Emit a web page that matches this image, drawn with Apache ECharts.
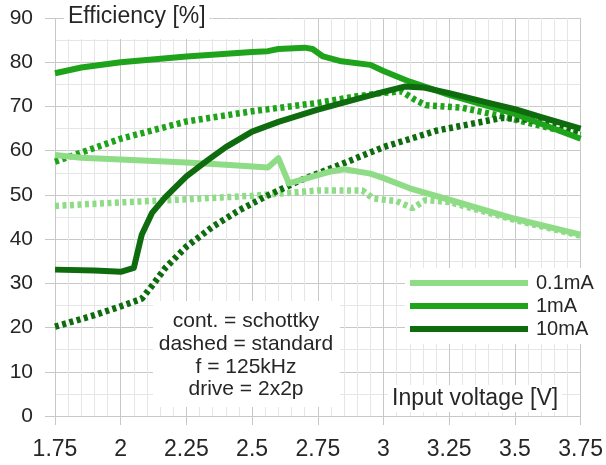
<!DOCTYPE html>
<html>
<head>
<meta charset="utf-8">
<script src="https://cdn.jsdelivr.net/npm/echarts@6/dist/echarts.min.js"></script>
<style>
  html, body { margin: 0; padding: 0; background: #fff; }
  #chart { width: 606px; height: 465px; }
</style>
</head>
<body>
<div id="chart"></div>
<script>
// 数据 (input voltage [V] / efficiency [%])
const seriesNames = ['0.1mA', '1mA', '10mA'];
const seriesColors = ['#8fdc86', '#1fa31b', '#0e6c0e'];

// 0.1mA
const x01Solid = [1.75, 1.85, 2.0, 2.25, 2.4, 2.56, 2.6, 2.64, 2.7, 2.8, 2.85, 2.95, 3.0, 3.1, 3.25, 3.5, 3.75];
const y01Solid = [59, 58.4, 58, 57.3, 56.8, 56.2, 58.3, 52.6, 53.6, 55.3, 55.8, 54.8, 53.8, 51.5, 48.9, 44.6, 41];
const x01Dash = [1.75, 2.0, 2.25, 2.5, 2.65, 2.75, 2.92, 2.96, 3.05, 3.11, 3.16, 3.25, 3.5, 3.75];
const y01Dash = [47.5, 48.3, 49.0, 49.8, 50.5, 51.0, 51.0, 49.2, 48.6, 47.0, 48.8, 48.4, 44.3, 40.8];

// 1mA
const x1Solid = [1.75, 1.85, 2.0, 2.25, 2.5, 2.56, 2.6, 2.7, 2.73, 2.77, 2.84, 2.95, 3.0, 3.1, 3.25, 3.5, 3.75];
const y1Solid = [77.5, 78.8, 80.0, 81.3, 82.3, 82.5, 83.0, 83.3, 83.0, 81.3, 80.2, 79.4, 78.0, 75.6, 72.6, 68.3, 62.7];
const x1Dash = [1.75, 2.0, 2.25, 2.5, 2.75, 2.9, 3.0, 3.07, 3.12, 3.16, 3.3, 3.45, 3.55, 3.75];
const y1Dash = [57.5, 62.7, 66.6, 68.9, 70.8, 72.3, 73.1, 73.4, 71.5, 70.3, 69.7, 67.8, 66.3, 63.5];

// 10mA
const x10Solid = [1.75, 1.9, 2.0, 2.05, 2.08, 2.12, 2.17, 2.25, 2.33, 2.4, 2.5, 2.6, 2.75, 2.9, 3.0, 3.08, 3.15, 3.25, 3.4, 3.5, 3.6, 3.75];
const y10Solid = [33.1, 32.9, 32.6, 33.5, 41, 46, 49.5, 54.2, 57.8, 60.8, 64.3, 66.5, 69.3, 71.7, 73.3, 74.5, 74.3, 73.0, 70.8, 69.4, 67.6, 65];
const x10Dash = [1.75, 1.9, 2.0, 2.08, 2.12, 2.17, 2.25, 2.35, 2.45, 2.55, 2.68, 2.8, 3.0, 3.2, 3.45, 3.55, 3.75];
const y10Dash = [20.2, 22.8, 24.8, 26.5, 29.5, 33.5, 38.3, 42.8, 46.5, 49.6, 53.2, 56.0, 60.8, 64.5, 67.4, 67.0, 64.2];

const noteLines = ['cont. = schottky', 'dashed = standard', 'f = 125kHz', 'drive = 2x2p'];

const FONT = 'Liberation Sans';
const TEXT_COLOR = '#262626';

function zip(xs, ys) {
  return xs.map((x, i) => [x, ys[i]]);
}

function solidSeries(name, color, xs, ys) {
  return {
    name: name,
    type: 'line',
    data: zip(xs, ys),
    showSymbol: false,
    symbol: 'none',
    z: 3,
    lineStyle: { color: color, width: 6, cap: 'butt', join: 'round' },
    itemStyle: { color: color }
  };
}

function dashSeries(name, color, xs, ys) {
  return {
    name: name + ' std',
    type: 'line',
    data: zip(xs, ys),
    showSymbol: false,
    symbol: 'none',
    z: 2,
    lineStyle: { color: color, width: 6.5, type: [4, 3.5], cap: 'butt' },
    itemStyle: { color: color }
  };
}

const chart = echarts.init(document.getElementById('chart'), null, { renderer: 'canvas' });

const option = {
  animation: false,
  backgroundColor: '#fff',
  textStyle: { fontFamily: FONT },
  grid: { left: 55, right: 24, top: 18, bottom: 49 },
  xAxis: {
    type: 'value',
    min: 1.75,
    max: 3.75,
    interval: 0.25,
    axisLine: { show: false },
    axisTick: { show: true, length: 9, lineStyle: { color: '#c8c8c8' } },
    axisLabel: { color: TEXT_COLOR, fontSize: 23, margin: 22, fontFamily: FONT },
    splitLine: { show: true, lineStyle: { color: '#c8c8c8', width: 1 } },
    minorTick: { show: false, splitNumber: 5 },
    minorSplitLine: { show: true, lineStyle: { color: '#e6e6e6', width: 1 } }
  },
  yAxis: {
    type: 'value',
    min: 0,
    max: 90,
    interval: 10,
    axisLine: { show: false },
    axisTick: { show: true, length: 10, lineStyle: { color: '#c8c8c8' } },
    axisLabel: { color: TEXT_COLOR, fontSize: 21, margin: 22, fontFamily: FONT },
    splitLine: { show: true, lineStyle: { color: '#c8c8c8', width: 1 } },
    minorTick: { show: false, splitNumber: 2 },
    minorSplitLine: { show: true, lineStyle: { color: '#e6e6e6', width: 1 } }
  },
  legend: {
    orient: 'vertical',
    left: 405,
    top: 268,
    data: seriesNames,
    icon: 'rect',
    itemWidth: 118,
    itemHeight: 6,
    itemGap: 3,
    padding: [5, 8, 5, 5],
    backgroundColor: '#fff',
    textStyle: { color: TEXT_COLOR, fontSize: 20, fontFamily: FONT, lineHeight: 20, padding: [0, 0, 0, 3] }
  },
  graphic: [
    // 标题背景
    { type: 'rect', z: 1, shape: { x: 56, y: 19, width: 244, height: 20 }, style: { fill: '#fff' } },
    {
      type: 'text', z: 1, left: 64, top: 3,
      style: { text: 'Efficiency [%]', font: '23px "Liberation Sans"', fill: TEXT_COLOR, backgroundColor: '#fff', padding: [2, 4, 2, 4] }
    },
    // 注释
    { type: 'rect', z: 1, shape: { x: 153, y: 301, width: 187, height: 106 }, style: { fill: '#fff' } },
    {
      type: 'text', z: 1, x: 246, y: 310,
      style: {
        text: noteLines.join('\n'),
        font: '21px "Liberation Sans"',
        lineHeight: 22.7,
        fill: TEXT_COLOR,
        align: 'center'
      }
    },
    // x 轴标题
    {
      type: 'text', z: 1, left: 388, top: 385,
      style: { text: 'Input voltage [V]', font: '23px "Liberation Sans"', fill: TEXT_COLOR, backgroundColor: '#fff', padding: [2, 4, 2, 4] }
    }
  ],
  series: [
    dashSeries(seriesNames[0], seriesColors[0], x01Dash, y01Dash),
    dashSeries(seriesNames[1], seriesColors[1], x1Dash, y1Dash),
    dashSeries(seriesNames[2], seriesColors[2], x10Dash, y10Dash),
    solidSeries(seriesNames[0], seriesColors[0], x01Solid, y01Solid),
    solidSeries(seriesNames[1], seriesColors[1], x1Solid, y1Solid),
    solidSeries(seriesNames[2], seriesColors[2], x10Solid, y10Solid)
  ]
};

chart.setOption(option);
</script>
</body>
</html>
